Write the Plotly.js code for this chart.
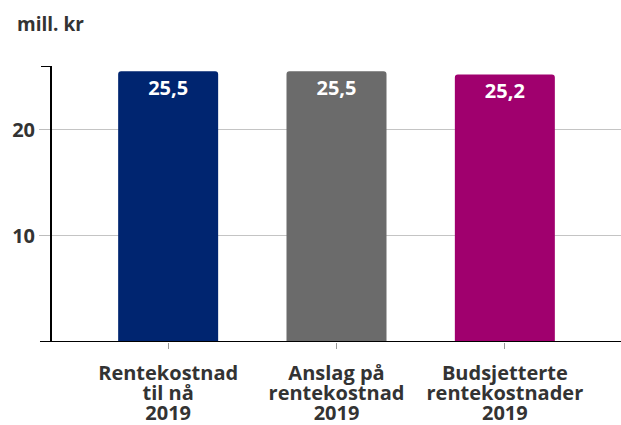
<!DOCTYPE html>
<html>
<head>
<meta charset="utf-8">
<script src="https://cdn.plot.ly/plotly-3.0.1.min.js"></script>
<style>html,body{margin:0;padding:0;background:#fff;}#chart{width:621px;height:425px;}</style>
</head>
<body>
<div id="chart"></div>
<script>
const categories = ["Rentekostnad<br>til nå<br>2019", "Anslag på<br>rentekostnad<br>2019", "Budsjetterte<br>rentekostnader<br>2019"];
const values = [25.5, 25.5, 25.2];
const barColors = ["#002570", "#6b6b6b", "#a0006e"];
const yTicks = [10, 20];
const yTitle = "mill. kr";

const font = "'Open Sans', 'DejaVu Sans', sans-serif";
const textColor = "#333333";

const trace = {
  type: "bar",
  x: [0, 1, 2],
  y: values,
  width: 0.594,
  marker: { color: barColors, cornerradius: 3 },
  texttemplate: "%{y:.1f}",
  textposition: "inside",
  insidetextanchor: "end",
  textangle: 0,
  textfont: { family: font, size: 20, color: "#ffffff", weight: "bold" },
  hoverinfo: "none",
  cliponaxis: false
};

const layout = {
  width: 621, height: 425,
  margin: { l: 52, r: 0, t: 66, b: 83 },
  paper_bgcolor: "#fff", plot_bgcolor: "#fff",
  separators: ", ",
  showlegend: false,
  font: { family: font, color: textColor, size: 19, weight: "bold" },
  xaxis: {
    range: [-0.69, 2.69],
    tickvals: [0, 1, 2],
    ticktext: categories,
    ticks: "outside", ticklen: 6, tickcolor: "#999", tickwidth: 1,
    ticklabelstandoff: 7,
    showgrid: false, zeroline: false, showline: false,
    tickfont: { family: font, size: 20, color: textColor, weight: "bold" },
    fixedrange: true
  },
  yaxis: {
    range: [0, 26],
    tickvals: yTicks,
    ticks: "outside", ticklen: 11, tickcolor: "#bdbdbd", tickwidth: 1,
    showgrid: true, gridcolor: "#c4c4c4", gridwidth: 1,
    zeroline: false,
    showline: true, linecolor: "#000", linewidth: 2,
    tickfont: { family: font, size: 20, color: textColor, weight: "bold" },
    fixedrange: true
  },
  shapes: [
    { type: "line", xref: "paper", yref: "y", x0: -0.0211, x1: 1, y0: 0, y1: 0, line: { color: "#000", width: 2 } },
    { type: "line", xref: "paper", yref: "y", x0: -0.0193, x1: 0, y0: 26, y1: 26, line: { color: "#000", width: 2 } }
  ],
  annotations: [
    { text: yTitle, xref: "paper", yref: "paper", x: -0.065, y: 1.152, xanchor: "left", yanchor: "middle",
      showarrow: false, font: { family: font, size: 19, color: textColor, weight: "bold" } }
  ]
};

Plotly.newPlot("chart", [trace], layout, { displayModeBar: false, staticPlot: true }).then(function (gd) {
  // tighten the line spacing of the multi-line category labels
  gd.querySelectorAll(".xtick text").forEach(function (t) {
    t.querySelectorAll("tspan.line").forEach(function (ts, i) {
      ts.setAttribute("dy", (i * 1.0) + "em");
    });
  });
});
</script>
</body>
</html>
